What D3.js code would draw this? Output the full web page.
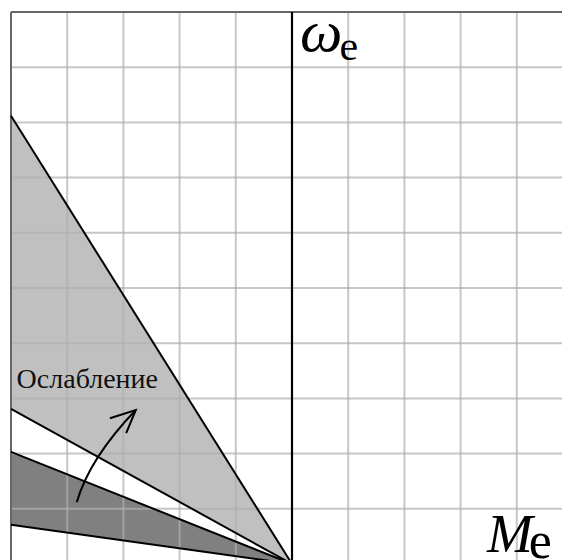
<!DOCTYPE html>
<html>
<head>
<meta charset="utf-8">
<script src="https://cdn.jsdelivr.net/npm/d3@7"></script>
<style>
  body { margin: 0; background: #fff; }
  svg { display: block; }
</style>
</head>
<body>
<svg class="main" width="562" height="560"></svg>
<script>
var SERIF = 'Liberation Serif';

var X_GRID = [-5, -4, -3, -2, -1, 0, 1, 2, 3, 4, 5];
var Y_GRID = [0, 1, 2, 3, 4, 5, 6, 7, 8, 9, 10];

// speed at M = -5 for each boundary line, all meet at the origin
var LIGHT_BAND = [8.12, 2.81];   // weakened field region
var DARK_BAND = [2.03, 0.71];    // nominal region

// arrow "Ослабление": start, bend, tip, then the two barbs
var ARROW_PATH = [[-3.83, 1.12], [-3.60, 1.92], [-2.78, 2.79]];
var ARROW_HEAD = [[-3.24, 2.64], [-2.78, 2.79], [-2.95, 2.37]];
var LABEL_POS = [-4.9, 3.18];

var svg = d3.select('svg.main');

var x = d3.scaleLinear().domain([-5, 5]).range([11, 573]);
var y = d3.scaleLinear().domain([0, 10]).range([564, 12]);

function wedge(top, bottom) {
  return [[-5, top], [0, 0], [-5, bottom]];
}

var area = d3.line().x(function(d) { return x(d[0]); }).y(function(d) { return y(d[1]); });

// filled bands
svg.append('path')
  .attr('d', area(wedge(LIGHT_BAND[0], LIGHT_BAND[1])) + 'Z')
  .attr('fill', '#c0c0c0');
svg.append('path')
  .attr('d', area(wedge(DARK_BAND[0], DARK_BAND[1])) + 'Z')
  .attr('fill', '#808080');

// grid on top, a bit see-through
var grid = svg.append('g').attr('class', 'grid')
  .attr('stroke', '#afafaf')
  .attr('stroke-opacity', 0.7)
  .attr('stroke-width', 2);

grid.selectAll('line.v').data(X_GRID).enter().append('line')
  .attr('class', 'v')
  .attr('x1', function(d) { return x(d); })
  .attr('x2', function(d) { return x(d); })
  .attr('y1', y(10)).attr('y2', 560);

grid.selectAll('line.h').data(Y_GRID).enter().append('line')
  .attr('class', 'h')
  .attr('y1', function(d) { return y(d); })
  .attr('y2', function(d) { return y(d); })
  .attr('x1', x(-5)).attr('x2', 562);

// frame (top and left)
svg.append('line')
  .attr('x1', x(-5)).attr('x2', 562)
  .attr('y1', y(10)).attr('y2', y(10))
  .attr('stroke', '#666').attr('stroke-width', 2);
svg.append('line')
  .attr('x1', x(-5)).attr('x2', x(-5))
  .attr('y1', y(10)).attr('y2', 560)
  .attr('stroke', '#666').attr('stroke-width', 2);

// boundary lines
LIGHT_BAND.concat(DARK_BAND).forEach(function(v) {
  svg.append('path')
    .attr('d', area([[-5, v], [0, 0]]))
    .attr('fill', 'none')
    .attr('stroke', '#000')
    .attr('stroke-width', 2);
});

// omega axis
svg.append('line')
  .attr('x1', x(0)).attr('x2', x(0))
  .attr('y1', y(10)).attr('y2', 560)
  .attr('stroke', '#000').attr('stroke-width', 2.2);

// label
svg.append('text')
  .attr('x', x(LABEL_POS[0]))
  .attr('y', y(LABEL_POS[1]))
  .style('font-family', SERIF)
  .attr('font-size', 28)
  .attr('fill', '#111')
  .text('Ослабление');

// arrow
svg.append('path')
  .attr('d', 'M' + x(ARROW_PATH[0][0]) + ',' + y(ARROW_PATH[0][1]) +
    'Q' + x(ARROW_PATH[1][0]) + ',' + y(ARROW_PATH[1][1]) +
    ' ' + x(ARROW_PATH[2][0]) + ',' + y(ARROW_PATH[2][1]))
  .attr('fill', 'none').attr('stroke', '#000').attr('stroke-width', 2);
svg.append('path')
  .attr('d', area(ARROW_HEAD))
  .attr('fill', 'none').attr('stroke', '#000').attr('stroke-width', 2);

// axis names
var wLab = svg.append('text')
  .attr('x', x(0) + 8).attr('y', 51)
  .style('font-family', SERIF)
  .attr('fill', '#000');
wLab.append('tspan').attr('font-style', 'italic')
  .attr('font-size', 60).text('ω');
wLab.append('tspan')
  .attr('font-size', 42).attr('dx', -3).attr('dy', 9).text('e');

var mLab = svg.append('text')
  .attr('x', 487).attr('y', 552)
  .style('font-family', SERIF)
  .attr('fill', '#000');
mLab.append('tspan').attr('font-style', 'italic')
  .attr('font-size', 55).text('M');
mLab.append('tspan')
  .attr('font-size', 52).attr('dx', -4).attr('dy', 6).text('e');
</script>
</body>
</html>
